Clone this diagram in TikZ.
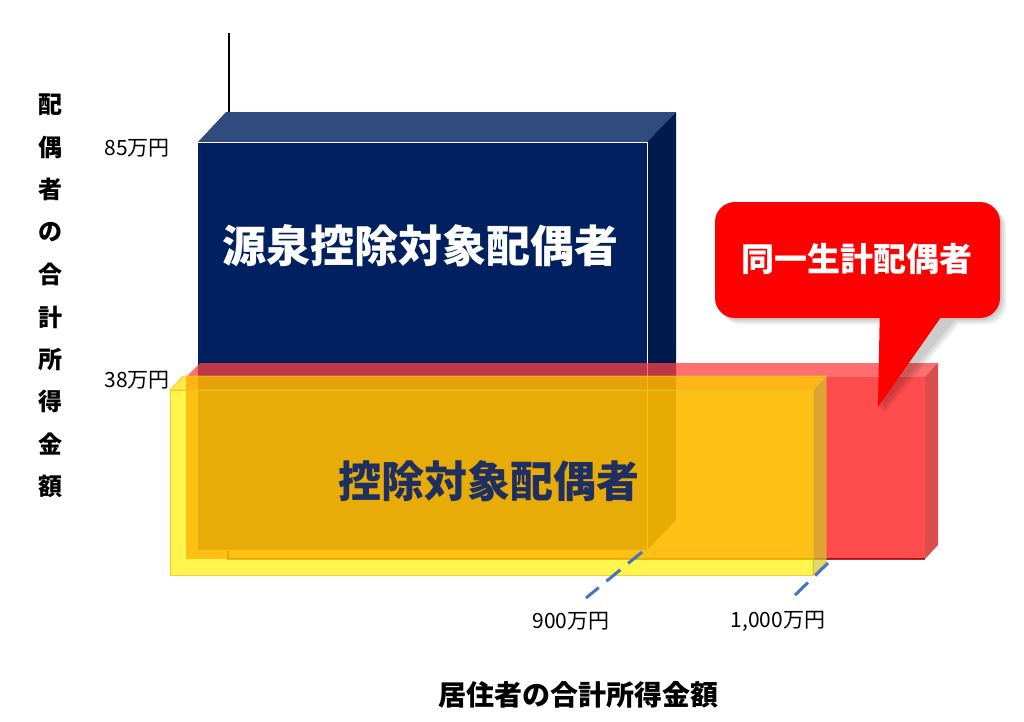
\documentclass[tikz,border=0pt]{standalone}
\usepackage{fontspec}
\newfontfamily\jp{Noto Sans CJK JP}
\definecolor{navyF}{HTML}{002060}
\definecolor{navyT}{HTML}{324B7E}
\definecolor{navyS}{HTML}{001A4D}
\definecolor{txtnavy}{HTML}{1F3060}
\definecolor{dashblue}{HTML}{4472C4}
\definecolor{yedge}{HTML}{F0C020}
\begin{document}
\begin{tikzpicture}[x=1pt,y=-1pt,
  lbl/.style={inner sep=0pt,font=\jp\fontsize{21}{24}\selectfont},
  axl/.style={inner sep=0pt,font=\jp\bfseries\fontsize{24}{26}\selectfont},
  big/.style={inner sep=0pt,font=\jp\bfseries\fontsize{44}{48}\selectfont},
  dashln/.style={draw=dashblue,line width=3pt,dash pattern=on 18pt off 10pt},
  shadowfill/.style={fill=black,opacity=0.07},
  yface/.style={fill=yellow,fill opacity=0.7,draw=yedge,draw opacity=0.8,line width=0.8pt}]
\useasboundingbox (0,0) rectangle (1024,721);
\fill[white] (0,0) rectangle (1024,721);
% axis line
\coordinate (axT) at (229,33);
\coordinate (axB) at (229,112);
\draw[line width=2pt] (axT) -- (axB);
% navy box
\fill[navyF] (198,142) rectangle (647,550);
\fill[navyT] (198,142) -- (226,112) -- (676,112) -- (647,142) -- cycle;
\fill[navyS] (647,142) -- (676,112) -- (676,520) -- (647,550) -- cycle;
\draw[white,line width=1pt] (198,142) -- (647,142) -- (647,550);
% red box
\fill[red,opacity=0.7] (186,377) rectangle (925,559);
\fill[red!75!white,opacity=0.75] (186,377) -- (200,363) -- (938,363) -- (925,377) -- cycle;
\fill[red!80!black,opacity=0.7] (925,377) -- (938,363) -- (938,545) -- (925,559) -- cycle;
\draw[red!60!black,opacity=0.8,line width=1.5pt] (228,551) -- (228,559) -- (925,559);
% yellow box
\path[yface] (170,390) rectangle (813,575);
\path[yface,fill=yellow!85!orange] (170,390) -- (183,376) -- (826,376) -- (813,390) -- cycle;
\path[yface,fill=yellow!80!black] (813,390) -- (826,376) -- (826,562) -- (813,575) -- cycle;
% dashed guide lines
\coordinate (d1a) at (642,552);
\coordinate (d1b) at (586,598);
\coordinate (d2a) at (828,563);
\coordinate (d2b) at (793,597);
\draw[dashln] (d1a) -- (d1b);
\draw[dashln] (d2a) -- (d2b);
% callout shadow (soft, layered)
\foreach \o in {2,4,6}{
  \fill[shadowfill] ({715+\o},{202+\o}) [rounded corners=20pt] rectangle ({1000+\o},{318+\o});
  \fill[shadowfill] ({880+\o},{318+\o}) -- ({878+\o},{407+\o}) -- ({953+\o},{318+\o}) -- cycle;
}
% callout
\fill[red,rounded corners=20pt] (715,202) rectangle (1000,318);
\fill[red] (880,300) -- (878,407) -- (953,300) -- cycle;
% texts
\node[big,text=white] (t1) at (420,246) {源泉控除対象配偶者};
\node[big,text=txtnavy,font=\jp\bfseries\fontsize{43}{46}\selectfont] (t2) at (489,481) {控除対象配偶者};
\node[inner sep=0pt,text=white,font=\jp\bfseries\fontsize{33}{36}\selectfont] (t3) at (857,259) {同一生計配偶者};
\node[lbl] (l85) at (137,148) {85万円};
\node[lbl] (l38) at (137,380) {38万円};
\node[lbl] (l900) at (571,621) {900万円};
\node[lbl] (l1000) at (778,621) {1,000万円};
\node[axl,font=\jp\bfseries\fontsize{28}{30}\selectfont] (xl) at (578,695) {居住者の合計所得金額};
\foreach \c [count=\i] in {配,偶,者,の,合,計,所,得,金,額}
  \node[axl] (v\i) at (50,{105+(\i-1)*42.4}) {\c};
\end{tikzpicture}
\end{document}
